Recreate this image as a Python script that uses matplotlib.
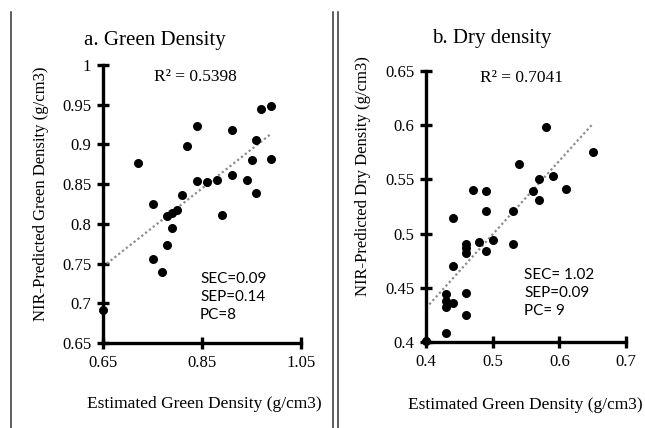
import numpy as np
import matplotlib
matplotlib.use("Agg")
import matplotlib.pyplot as plt
from matplotlib.lines import Line2D

# panel a: green density
green_est = [0.72, 0.75, 0.78, 0.79, 0.80, 0.79, 0.78, 0.81, 0.82, 0.84, 0.84, 0.86, 0.88,
             0.89, 0.91, 0.91, 0.94, 0.96, 0.95, 0.96, 0.97, 0.99, 0.99, 0.75, 0.77, 0.65]
green_nir = [0.876, 0.825, 0.810, 0.814, 0.818, 0.795, 0.774, 0.836, 0.898, 0.923, 0.854, 0.853, 0.855,
             0.811, 0.918, 0.861, 0.855, 0.839, 0.880, 0.905, 0.944, 0.949, 0.882, 0.756, 0.739, 0.691]

# panel b: dry density
dry_est = [0.44, 0.47, 0.49, 0.49, 0.54, 0.53, 0.56, 0.57, 0.57, 0.58, 0.59, 0.61, 0.65,
           0.46, 0.46, 0.46, 0.48, 0.50, 0.49, 0.53, 0.44, 0.43, 0.43, 0.43, 0.44, 0.46, 0.46, 0.43, 0.40]
dry_nir = [0.514, 0.540, 0.539, 0.521, 0.564, 0.521, 0.539, 0.550, 0.531, 0.598, 0.553, 0.541, 0.575,
           0.490, 0.487, 0.482, 0.492, 0.494, 0.484, 0.490, 0.470, 0.444, 0.438, 0.432, 0.436, 0.445, 0.425, 0.408, 0.401]

green_xticks = [0.65, 0.85, 1.05]
green_yticks = [0.65, 0.7, 0.75, 0.8, 0.85, 0.9, 0.95, 1]
dry_xticks = [0.4, 0.5, 0.6, 0.7]
dry_yticks = [0.4, 0.45, 0.5, 0.55, 0.6, 0.65]

plt.rcParams['font.family'] = ['Liberation Serif', 'DejaVu Serif']
sans = "Lato"
W, H = 645.0, 428.0

fig = plt.figure(figsize=(6.45, 4.28), dpi=100)
ax1 = fig.add_axes([0.1597, 0.1986, 0.307, 0.6495])
ax2 = fig.add_axes([0.6605, 0.2009, 0.310, 0.6332])


def tick_fmt(v):
    return ("%.2f" % v).rstrip("0").rstrip(".")


def panel(ax, x, y, xt, yt, r2, r2pos, stats, spos):
    ax.scatter(x, y, s=30, color="black", zorder=3, clip_on=False)
    m, b = np.polyfit(x, y, 1)
    xs = np.array([min(x), max(x)])
    ax.plot(xs, m * xs + b, color="#8c8c8c", lw=1.6, ls=(0, (1, 1.2)), zorder=2)
    ax.set_xlim(xt[0], xt[-1])
    ax.set_ylim(yt[0], yt[-1])
    ax.set_xticks(xt)
    ax.set_yticks(yt)
    ax.set_xticklabels([tick_fmt(v) for v in xt], fontsize=12)
    ax.set_yticklabels([tick_fmt(v) for v in yt], fontsize=12)
    for s in ["top", "right"]:
        ax.spines[s].set_visible(False)
    for s in ["left", "bottom"]:
        ax.spines[s].set_linewidth(2.4)
    ax.tick_params(direction="inout", length=9, width=2.4, pad=4)
    ax.text(r2pos[0], r2pos[1], r2, transform=ax.transAxes, ha="center", va="center",
            fontsize=12.5)
    ax.text(spos[0], spos[1], stats, transform=ax.transAxes, ha="left", va="top",
            fontfamily=sans, fontsize=11, linespacing=1.35)


panel(ax1, green_est, green_nir, green_xticks, green_yticks, "R² = 0.5398", (0.465, 0.957),
      "SEC=0.09\nSEP=0.14\nPC=8", (0.49, 0.255))
panel(ax2, dry_est, dry_nir, dry_xticks, dry_yticks, "R² = 0.7041", (0.48, 0.974),
      "SEC= 1.02\nSEP=0.09\nPC= 9", (0.49, 0.272))

# titles and axis labels
fig.text(155 / W, 1 - 40 / H, "a. Green Density", ha="center", va="center", fontsize=15)
fig.text(492 / W, 1 - 38 / H, "b. Dry density", ha="center", va="center", fontsize=15)
fig.text(41 / W, 1 - 194 / H, "NIR-Predicted Green Density (g/cm3)", rotation=90,
         ha="center", va="center", fontsize=12)
fig.text(363 / W, 1 - 176 / H, "NIR-Predicted Dry Density (g/cm3)", rotation=90,
         ha="center", va="center", fontsize=12)
fig.text(204 / W, 1 - 404 / H, "Estimated Green Density (g/cm3)", ha="center", va="center",
         fontsize=12.5)
fig.text(525 / W, 1 - 405 / H, "Estimated Green Density (g/cm3)", ha="center", va="center",
         fontsize=12.5)

# panel frame lines
for xp in [11 / W, 333 / W, 338 / W]:
    fig.add_artist(Line2D([xp, xp], [0, 1 - 12 / H], color="#333333", lw=1.1))

fig.savefig("out.png", dpi=100)
